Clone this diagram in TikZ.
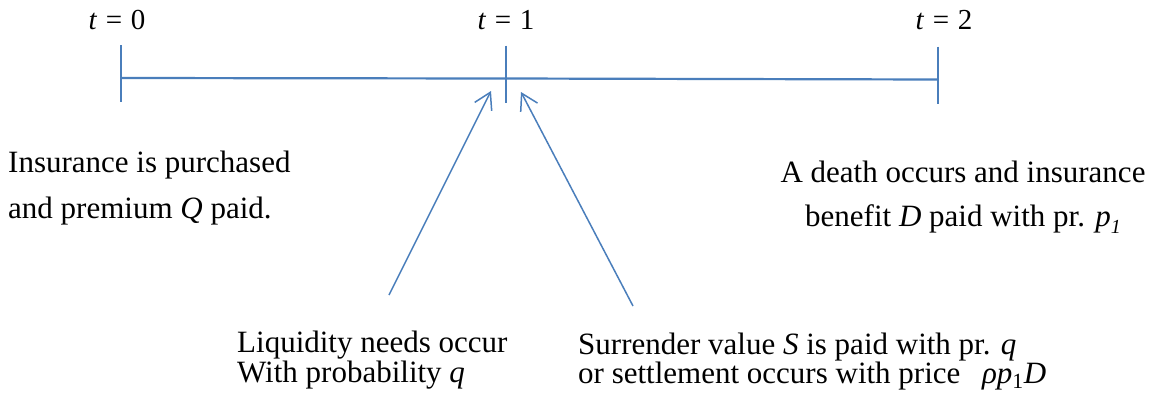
\documentclass[tikz,border=0pt]{standalone}
\usepackage{fontspec}
\setmainfont{Liberation Serif}
\usetikzlibrary{arrows.meta}
\definecolor{lineblue}{HTML}{4A7EBB}
\begin{document}
\begin{tikzpicture}[x=1pt,y=-1pt,
    tick/.style={lineblue,line width=2.6pt},
    axis/.style={lineblue,line width=2.2pt},
    pointer/.style={lineblue,line width=1.5pt,-{Straight Barb[length=16pt,width=19pt]}},
    tlabel/.style={inner sep=0pt,anchor=base,font=\fontsize{29}{32}\selectfont},
    txt/.style={inner sep=0pt,font=\fontsize{31}{#1}\selectfont}]
    \useasboundingbox (0,0) rectangle (1154,405);
    %asse dei tempi
    \coordinate (t0) at (121,78);
    \coordinate (t1) at (506,78.5);
    \coordinate (t2) at (938,79.5);
    \draw[axis] (t0)--(t1)--(t2);
    \foreach \p in {t0,t1,t2} {
    \draw[tick] ([yshift=33pt]\p)--([yshift=-24pt]\p);
    }
    \foreach \n/\x in {0/117,1/506,2/944} {
    \node[tlabel] (lab\n) at (\x,29) {\textit{t}\hspace{0.3em}=\hspace{0.3em}\n};
    }
    %testi (base = ultima riga)
    \node[txt=46,anchor=base west,align=left] (buy) at (8,218)
      {Insurance is purchased\\and premium \textit{Q} paid.};
    \node[txt=44,anchor=base,align=center] (death) at (963,226)
      {A death occurs and insurance\\benefit \textit{D} paid with pr. \textit{p}\raisebox{-7pt}{\fontsize{20}{20}\selectfont\textit{1}}};
    \node[txt=30,anchor=base west,align=left] (liq) at (237,382)
      {Liquidity needs occur\\With probability \textit{q}};
    \node[txt=29,anchor=base west,align=left] (sur) at (578,383)
      {Surrender value \textit{S} is paid with pr. \textit{q}\\or settlement occurs with price\hspace{0.7em}\textit{ρp}\textsubscript{1}\textit{D}};
    %frecce
    \coordinate (liqend) at (389,295);
    \coordinate (surend) at (633,306);
    \coordinate (liqtip) at (491,91);
    \coordinate (surtip) at (521,92);
    \draw[pointer] (liqend)--(liqtip);
    \draw[pointer] (surend)--(surtip);
\end{tikzpicture}
\end{document}
